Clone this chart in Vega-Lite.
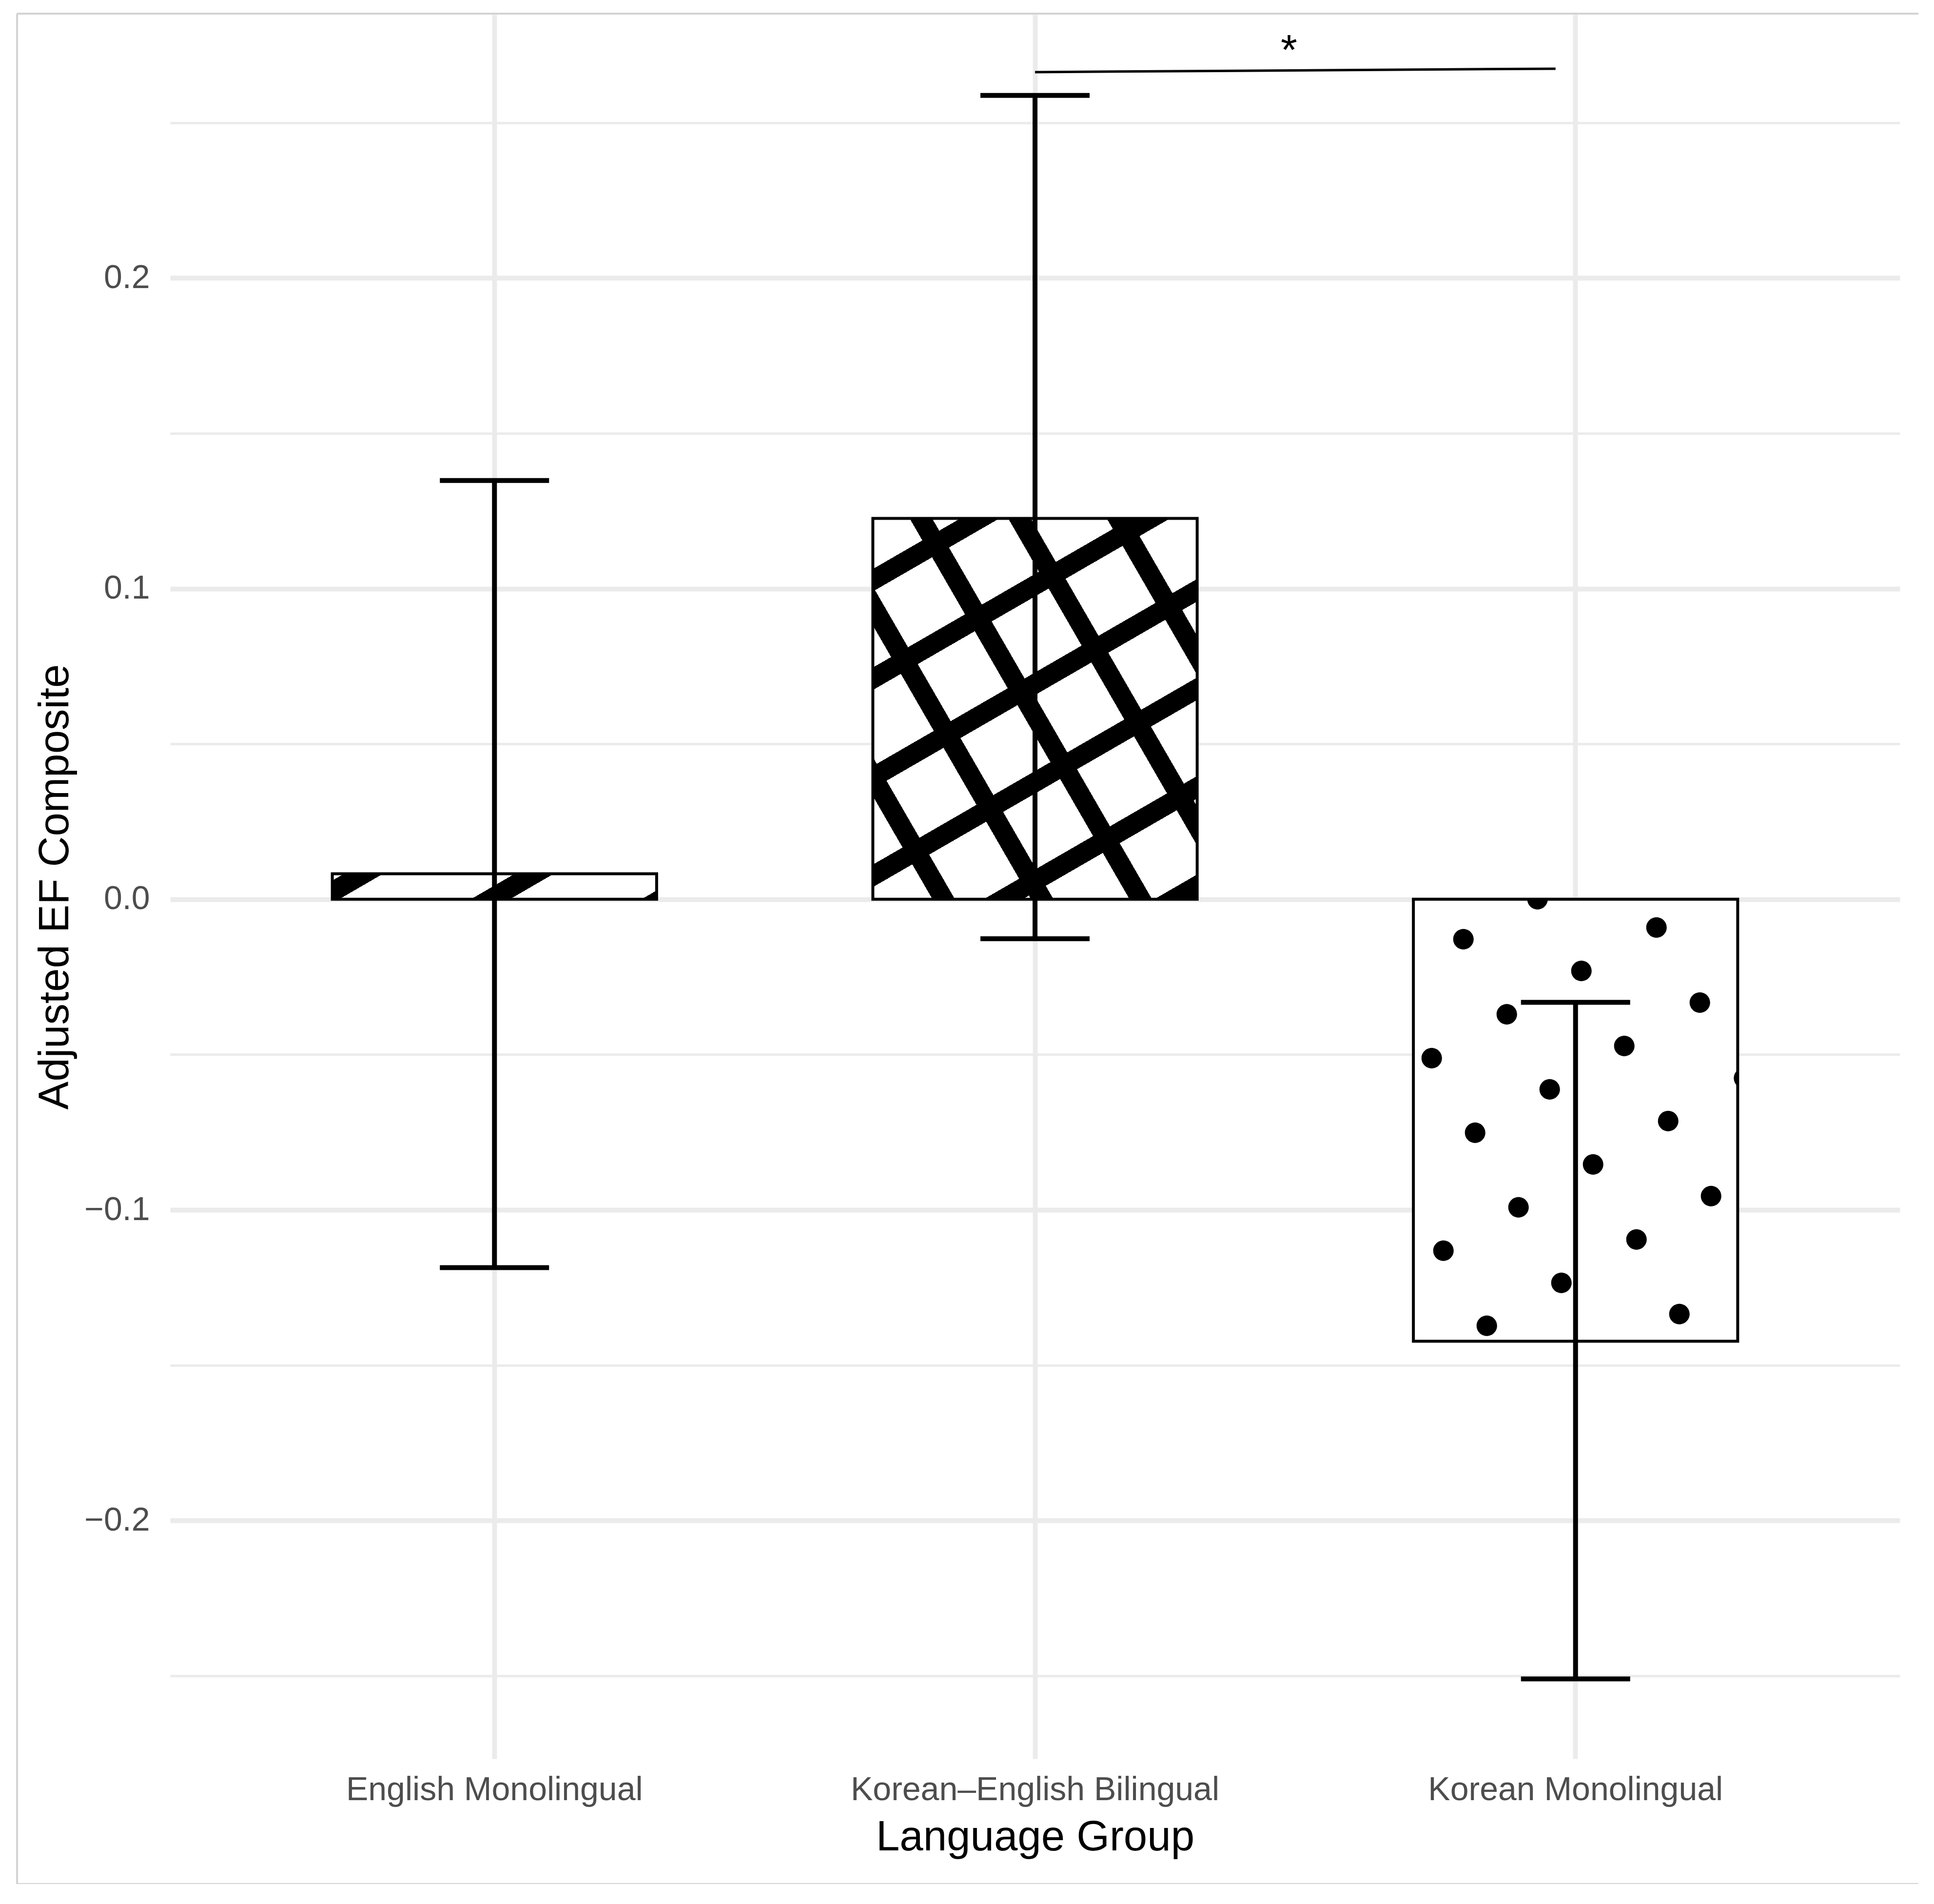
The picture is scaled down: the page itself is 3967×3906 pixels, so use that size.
{
  "$schema": "https://vega.github.io/schema/vega-lite/v6.json",
  "width": 3900,
  "height": 3837,
  "autosize": {"type": "none"},
  "padding": {"left": 35, "top": 28, "right": 0, "bottom": 0},
  "background": "white",
  "view": {"stroke": "#d3d3d3", "strokeWidth": 4, "strokeDash": [3900, 3837, 7737, 0]},
  "config": {"font": "Liberation Sans"},
  "data": {
    "values": [
      {"group": "English Monolingual", "mean": 0.0082, "lo": -0.1186, "hi": 0.1348},
      {"group": "Korean–English Bilingual", "mean": 0.1226, "lo": -0.0127, "hi": 0.2588},
      {"group": "Korean Monolingual", "mean": -0.1423, "lo": -0.251, "hi": -0.0332}
    ]
  },
  "layer": [
    {
      "mark": {"type": "bar", "fill": "white", "stroke": "black", "strokeWidth": 6},
      "encoding": {
        "x": {
          "field": "group",
          "type": "nominal",
          "sort": ["English Monolingual", "Korean–English Bilingual", "Korean Monolingual"],
          "scale": {
            "domain": ["English Monolingual", "Korean–English Bilingual", "Korean Monolingual"],
            "range": [314, 3862],
            "paddingInner": 0.4,
            "paddingOuter": 0.3
          },
          "axis": {
            "orient": "bottom",
            "offset": -257,
            "title": "Language Group",
            "domain": false,
            "ticks": false,
            "tickSize": 0,
            "bandPosition": 0.5,
            "labelAngle": 0,
            "labelFontSize": 68,
            "labelColor": "#4d4d4d",
            "labelPadding": 30,
            "labelLimit": 2000,
            "grid": false,
            "titleFontSize": 87,
            "titleFontWeight": "normal",
            "titleColor": "black",
            "titleY": 187,
            "titleBaseline": "alphabetic"
          }
        },
        "y": {
          "field": "mean",
          "type": "quantitative",
          "scale": {"domain": [-0.2767, 0.2848], "range": [3580, 2], "nice": false, "zero": false},
          "axis": {
            "orient": "left",
            "offset": -314,
            "title": "Adjusted EF Composite",
            "values": [-0.2, -0.1, 0, 0.1, 0.2],
            "format": ".1f",
            "domain": false,
            "ticks": false,
            "tickSize": 0,
            "labelFontSize": 68,
            "labelColor": "#4d4d4d",
            "labelPadding": 42,
            "grid": true,
            "gridColor": "#ebebeb",
            "gridWidth": 10,
            "titleFontSize": 87,
            "titleFontWeight": "normal",
            "titleColor": "black",
            "titleAngle": -90,
            "titleX": -210,
            "titleBaseline": "alphabetic"
          }
        },
        "y2": {"datum": 0}
      }
    },
    {
      "transform": [{"filter": "datum.group === 'English Monolingual'"}],
      "mark": {
        "type": "bar",
        "strokeWidth": 0,
        "fill": {
          "gradient": "linear",
          "x1": 0, "y1": 0, "x2": 1.1149, "y2": 0.151,
          "stops": [
            {"offset": 0, "color": "rgba(0,0,0,0)"},
            {"offset": 0.0318, "color": "rgba(0,0,0,0)"},
            {"offset": 0.0318, "color": "black"},
            {"offset": 0.1377, "color": "black"},
            {"offset": 0.1377, "color": "rgba(0,0,0,0)"},
            {"offset": 0.4954, "color": "rgba(0,0,0,0)"},
            {"offset": 0.4954, "color": "black"},
            {"offset": 0.6013, "color": "black"},
            {"offset": 0.6013, "color": "rgba(0,0,0,0)"},
            {"offset": 0.9589, "color": "rgba(0,0,0,0)"},
            {"offset": 0.9589, "color": "black"},
            {"offset": 1, "color": "black"}
          ]
        }
      },
      "encoding": {
        "x": {"field": "group", "type": "nominal", "axis": null},
        "y": {"field": "mean", "type": "quantitative", "axis": null},
        "y2": {"datum": 0}
      }
    },
    {
      "transform": [{"filter": "datum.group === 'Korean–English Bilingual'"}],
      "mark": {
        "type": "bar",
        "strokeWidth": 0,
        "fill": {
          "gradient": "linear",
          "x1": 0, "y1": 0, "x2": 0.5905, "y2": 1.2012,
          "stops": [
            {"offset": 0, "color": "rgba(0,0,0,0)"},
            {"offset": 0.089, "color": "rgba(0,0,0,0)"},
            {"offset": 0.089, "color": "black"},
            {"offset": 0.1286, "color": "black"},
            {"offset": 0.1286, "color": "rgba(0,0,0,0)"},
            {"offset": 0.2625, "color": "rgba(0,0,0,0)"},
            {"offset": 0.2625, "color": "black"},
            {"offset": 0.3021, "color": "black"},
            {"offset": 0.3021, "color": "rgba(0,0,0,0)"},
            {"offset": 0.436, "color": "rgba(0,0,0,0)"},
            {"offset": 0.436, "color": "black"},
            {"offset": 0.4757, "color": "black"},
            {"offset": 0.4757, "color": "rgba(0,0,0,0)"},
            {"offset": 0.6095, "color": "rgba(0,0,0,0)"},
            {"offset": 0.6095, "color": "black"},
            {"offset": 0.6491, "color": "black"},
            {"offset": 0.6491, "color": "rgba(0,0,0,0)"},
            {"offset": 0.783, "color": "rgba(0,0,0,0)"},
            {"offset": 0.783, "color": "black"},
            {"offset": 0.8226, "color": "black"},
            {"offset": 0.8226, "color": "rgba(0,0,0,0)"},
            {"offset": 0.9564, "color": "rgba(0,0,0,0)"},
            {"offset": 0.9564, "color": "black"},
            {"offset": 0.9961, "color": "black"},
            {"offset": 0.9961, "color": "rgba(0,0,0,0)"},
            {"offset": 1, "color": "rgba(0,0,0,0)"}
          ]
        }
      },
      "encoding": {
        "x": {"field": "group", "type": "nominal", "axis": null},
        "y": {"field": "mean", "type": "quantitative", "axis": null},
        "y2": {"datum": 0}
      }
    },
    {
      "transform": [{"filter": "datum.group === 'Korean–English Bilingual'"}],
      "mark": {
        "type": "bar",
        "strokeWidth": 0,
        "fill": {
          "gradient": "linear",
          "x1": -0.4645, "y1": 0.315, "x2": 0.685, "y2": -0.4645,
          "stops": [
            {"offset": 0, "color": "rgba(0,0,0,0)"},
            {"offset": 0.1095, "color": "rgba(0,0,0,0)"},
            {"offset": 0.1095, "color": "black"},
            {"offset": 0.1509, "color": "black"},
            {"offset": 0.1509, "color": "rgba(0,0,0,0)"},
            {"offset": 0.2906, "color": "rgba(0,0,0,0)"},
            {"offset": 0.2906, "color": "black"},
            {"offset": 0.332, "color": "black"},
            {"offset": 0.332, "color": "rgba(0,0,0,0)"},
            {"offset": 0.4717, "color": "rgba(0,0,0,0)"},
            {"offset": 0.4717, "color": "black"},
            {"offset": 0.5131, "color": "black"},
            {"offset": 0.5131, "color": "rgba(0,0,0,0)"},
            {"offset": 0.6528, "color": "rgba(0,0,0,0)"},
            {"offset": 0.6528, "color": "black"},
            {"offset": 0.6942, "color": "black"},
            {"offset": 0.6942, "color": "rgba(0,0,0,0)"},
            {"offset": 0.8339, "color": "rgba(0,0,0,0)"},
            {"offset": 0.8339, "color": "black"},
            {"offset": 0.8753, "color": "black"},
            {"offset": 0.8753, "color": "rgba(0,0,0,0)"},
            {"offset": 1, "color": "rgba(0,0,0,0)"}
          ]
        }
      },
      "encoding": {
        "x": {"field": "group", "type": "nominal", "axis": null},
        "y": {"field": "mean", "type": "quantitative", "axis": null},
        "y2": {"datum": 0}
      }
    },
    {
      "transform": [{"filter": "datum.group === 'Korean Monolingual'"}],
      "mark": {
        "type": "point",
        "shape": "M-99,0a21,21 0 0,0 42,0Z M-251,82a21,21 0 1,0 42,0a21,21 0 1,0 -42,0Z M145,58a21,21 0 1,0 42,0a21,21 0 1,0 -42,0Z M-9,147a21,21 0 1,0 42,0a21,21 0 1,0 -42,0Z M-162,236a21,21 0 1,0 42,0a21,21 0 1,0 -42,0Z M234,212a21,21 0 1,0 42,0a21,21 0 1,0 -42,0Z M-316,326a21,21 0 1,0 42,0a21,21 0 1,0 -42,0Z M79,301a21,21 0 1,0 42,0a21,21 0 1,0 -42,0Z M-74,390a21,21 0 1,0 42,0a21,21 0 1,0 -42,0Z M-227,479a21,21 0 1,0 42,0a21,21 0 1,0 -42,0Z M169,455a21,21 0 1,0 42,0a21,21 0 1,0 -42,0Z M15,544a21,21 0 1,0 42,0a21,21 0 1,0 -42,0Z M-138,632a21,21 0 1,0 42,0a21,21 0 1,0 -42,0Z M257,609a21,21 0 1,0 42,0a21,21 0 1,0 -42,0Z M-292,721a21,21 0 1,0 42,0a21,21 0 1,0 -42,0Z M104,698a21,21 0 1,0 42,0a21,21 0 1,0 -42,0Z M-50,787a21,21 0 1,0 42,0a21,21 0 1,0 -42,0Z M-203,875a21,21 0 1,0 42,0a21,21 0 1,0 -42,0Z M192,851a21,21 0 1,0 42,0a21,21 0 1,0 -42,0Z M332,351A21,21 0 0,0 332,383Z",
        "size": 4,
        "filled": true,
        "color": "black",
        "opacity": 1,
        "strokeWidth": 0
      },
      "encoding": {
        "x": {"field": "group", "type": "nominal", "axis": null},
        "y": {"datum": 0, "type": "quantitative", "axis": null}
      }
    },
    {
      "mark": {"type": "rule", "color": "black", "strokeWidth": 10},
      "encoding": {
        "x": {
          "field": "group",
          "type": "nominal",
          "axis": {
            "orient": "top",
            "bandPosition": 0.5,
            "grid": true,
            "gridColor": "#ebebeb",
            "gridWidth": 10,
            "labels": false,
            "ticks": false,
            "domain": false,
            "title": null
          }
        },
        "y": {"field": "lo", "type": "quantitative", "axis": null},
        "y2": {"field": "hi"}
      }
    },
    {
      "transform": [{"fold": ["lo", "hi"], "as": ["end", "val"]}],
      "mark": {"type": "tick", "orient": "horizontal", "size": 224, "thickness": 10, "color": "black", "opacity": 1},
      "encoding": {
        "x": {"field": "group", "type": "nominal", "axis": null},
        "y": {"field": "val", "type": "quantitative", "axis": null}
      }
    },
    {
      "data": {
        "values": [
          {"from": "Korean–English Bilingual", "to": "Korean Monolingual", "yleft": 0.2663, "yright": 0.2674}
        ]
      },
      "mark": {"type": "rule", "color": "black", "strokeWidth": 5, "x2Offset": -41},
      "encoding": {
        "x": {"field": "from", "type": "nominal", "axis": null},
        "x2": {"field": "to"},
        "y": {
          "field": "yleft",
          "type": "quantitative",
          "axis": {
            "orient": "left",
            "offset": -314,
            "values": [-0.25, -0.15, -0.05, 0.05, 0.15, 0.25],
            "grid": true,
            "gridColor": "#ebebeb",
            "gridWidth": 5,
            "labels": false,
            "ticks": false,
            "domain": false,
            "title": null
          }
        },
        "y2": {"field": "yright"}
      }
    },
    {
      "data": {
        "values": [
          {"from": "Korean–English Bilingual", "ylabel": 0.2688, "label": "*"}
        ]
      },
      "mark": {"type": "text", "fontSize": 87, "color": "black", "align": "center", "baseline": "alphabetic", "dx": 521},
      "encoding": {
        "x": {"field": "from", "type": "nominal", "axis": null},
        "y": {"field": "ylabel", "type": "quantitative", "axis": null},
        "text": {"field": "label"}
      }
    }
  ],
  "resolve": {
    "axis": {"x": "independent", "y": "independent"}
  }
}
